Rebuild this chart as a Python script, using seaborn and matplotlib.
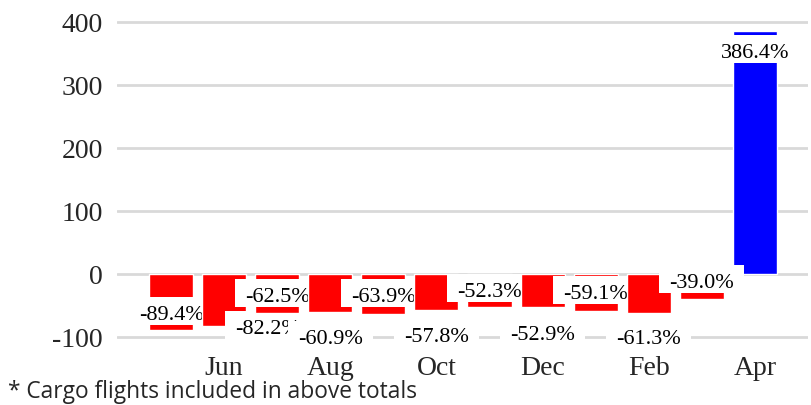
import matplotlib
matplotlib.use("Agg")
import matplotlib.pyplot as plt
from matplotlib.path import Path
import seaborn as sns

# monthly change vs. previous year, in percent
months = ["May", "Jun", "Jul", "Aug", "Sep", "Oct", "Nov", "Dec", "Jan", "Feb", "Mar", "Apr"]
change = [-89.4, -82.2, -62.5, -60.9, -63.9, -57.8, -52.3, -52.9, -59.1, -61.3, -39.0, 386.4]
colors = ["#ff0000"] * 11 + ["#0000ff"]

# where the data labels sit (category offset, value)
label_dx = [0, 0.82, 0, 0, 0, 0, 0, 0, 0, 0, 0, 0]
label_y = [-66, -88, -38, -104, -38, -101, -30, -97, -33, -104, -15, 350]


def label_box(x0, y0, width, height, mutation_size):
    # white box, wider than tall, with more room above the digits than below
    px = 0.45 * mutation_size
    top, bottom = 0.42 * mutation_size, 0.0
    return Path([(x0 - px, y0 - bottom), (x0 + width + px, y0 - bottom),
                 (x0 + width + px, y0 + height + top), (x0 - px, y0 + height + top),
                 (x0 - px, y0 - bottom)], closed=True)


sns.set_style("white")
plt.rcParams["font.family"] = ["Liberation Serif", "DejaVu Serif"]
plt.rcParams["axes.unicode_minus"] = False

fig = plt.figure(figsize=(8.12, 4.05), dpi=100)
ax = fig.add_axes([0.144, 0.148, 0.851, 0.852])

sns.barplot(x=months, y=change, hue=months, palette=colors, legend=False,
            width=0.83, saturation=1, ax=ax)

# each label sits on top of its own bar but below the next one (blue bar lowest)
for i, bar in enumerate(ax.patches):
    bar.set_zorder(2 + 2 * i if change[i] < 0 else 1.5)

for i, (v, dx, ly) in enumerate(zip(change, label_dx, label_y)):
    ax.text(i + dx, ly, f"{v:.1f}%", ha="center", va="center", fontsize=16,
            color="black", zorder=3 + 2 * i,
            bbox=dict(boxstyle=label_box, facecolor="white", edgecolor="none"))

ax.set_ylim(-112.7, 435)
ax.set_xlim(-1.02, 12.0)
ax.set_yticks([-100, 0, 100, 200, 300, 400])
ax.set_xticks(range(1, 12, 2))
ax.set_xticklabels(months[1::2])
ax.yaxis.grid(True, color="#d9d9d9", linewidth=2, zorder=0)
ax.set_axisbelow(True)
ax.tick_params(axis="both", length=0, labelsize=20)
ax.tick_params(axis="y", pad=10)
ax.tick_params(axis="x", pad=8)
sns.despine(ax=ax, left=True, bottom=True)
ax.set_xlabel("")
ax.set_ylabel("")

fig.text(0.01, 0.003, "* Cargo flights included in above totals",
         fontsize=16.4, family="Open Sans", ha="left", va="bottom")

fig.savefig("out.png", dpi=100)
